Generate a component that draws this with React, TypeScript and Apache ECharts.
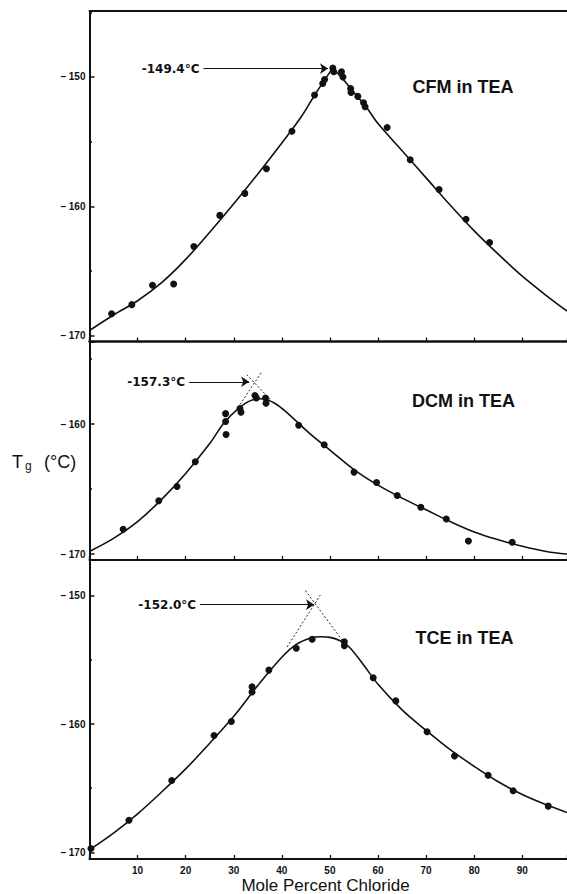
import React, { useEffect, useRef } from 'react';
import * as echarts from 'echarts';

// ---------- data ----------
const panelTitles = ['CFM in TEA', 'DCM in TEA', 'TCE in TEA'];
const peakLabels = ['-149.4°C', '-157.3°C', '-152.0°C'];
const xTickLabels = [10, 20, 30, 40, 50, 60, 70, 80, 90];
const yTickLabels = [-150, -160, -170];

// CFM in TEA
const cfmPoints = [
  [4.6, -168.3], [8.8, -167.6], [13.1, -166.1], [17.5, -166.0], [21.7, -163.1],
  [27.1, -160.7], [32.3, -159.0], [36.8, -157.1], [42.1, -154.2], [46.8, -151.4],
  [48.5, -150.5], [48.9, -150.2], [50.6, -149.3], [50.8, -149.6], [52.4, -149.6],
  [52.7, -150.0], [54.3, -150.9], [54.4, -151.2], [55.8, -151.5], [57.0, -152.0],
  [57.3, -152.3], [61.9, -153.9], [66.7, -156.4], [72.7, -158.7], [78.3, -161.0],
  [83.2, -162.8],
];
const cfmCurveLeft = [
  [0, -169.6], [5, -168.4], [10, -167.3], [15, -165.9], [20, -164.1], [25, -162.0],
  [30, -159.8], [35, -157.5], [40, -155.1], [44, -153.1], [47, -151.3], [50.6, -149.3],
];
const cfmCurveRight = [
  [50.6, -149.3], [53, -150.3], [55, -151.2], [57.5, -152.3], [60, -153.6], [65, -155.7],
  [70, -157.8], [75, -159.9], [80, -161.9], [85, -163.7], [90, -165.4], [95, -166.9],
  [99.3, -168.1],
];

// DCM in TEA
const dcmPoints = [
  [7.0, -168.1], [14.4, -165.9], [18.2, -164.8], [22.0, -162.9], [28.3, -159.2],
  [28.3, -159.8], [28.4, -160.8], [31.3, -158.8], [31.5, -159.1], [34.4, -157.8],
  [34.7, -158.0], [36.6, -158.0], [36.7, -158.4], [43.5, -160.1], [48.8, -161.6],
  [55.0, -163.7], [59.7, -164.5], [64.0, -165.5], [68.9, -166.4], [74.2, -167.3],
  [78.8, -169.0], [87.9, -169.1],
];
const dcmCurve = [
  [0, -169.8], [5, -168.8], [10, -167.5], [15, -165.8], [20, -163.8], [25, -161.5],
  [28, -159.9], [31, -158.8], [33.5, -158.2], [36, -158.05], [38.5, -158.4], [41, -159.1],
  [45.7, -160.7], [50, -162.0], [55, -163.5], [60, -164.7], [65, -165.7], [70, -166.6],
  [75, -167.5], [80, -168.3], [85, -168.9], [90, -169.4], [95, -169.8], [99.3, -170.0],
];
const dcmTangentA = [[31.3, -158.5], [35.8, -156.0]];
const dcmTangentB = [[32.7, -156.2], [37.8, -158.2]];

// TCE in TEA
const tcePoints = [
  [0.3, -169.7], [8.2, -167.5], [17.1, -164.4], [25.9, -160.9], [29.5, -159.8],
  [33.8, -157.1], [33.8, -157.5], [37.3, -155.8], [43.0, -154.1], [46.3, -153.4],
  [53.0, -153.6], [53.0, -153.9], [59.0, -156.4], [63.7, -158.2], [70.2, -160.6],
  [75.9, -162.5], [82.9, -164.0], [88.1, -165.2], [95.4, -166.4],
];
const tceCurve = [
  [0, -169.8], [5, -168.5], [10, -167.0], [15, -165.3], [20, -163.5], [25, -161.5],
  [30, -159.4], [35, -157.0], [40, -154.8], [43, -153.8], [46, -153.3], [48, -153.2],
  [50, -153.25], [52, -153.5], [54, -154.0], [57, -155.4], [60, -156.9], [65, -158.9],
  [70, -160.5], [75, -162.0], [80, -163.3], [85, -164.5], [90, -165.5], [95, -166.3],
  [99.3, -166.9],
];
const tceTangentA = [[41.1, -154.0], [48.0, -149.95]];
const tceTangentB = [[44.9, -149.6], [52.6, -153.5]];

// annotation arrows: [xFrom, xTo, y]
const peakArrows = [
  [23.7, 49.6, -149.35],
  [20.7, 33.2, -156.75],
  [23.0, 46.7, -150.7],
];

// axis extents of each panel
const yMin = [-170.45, -170.46, -170.52];
const yMax = [-144.9, -153.69, -147.22];
const ySplit = [3, 2, 3];
const xMin = 0;
const xMax = 99.3;

// ---------- styling ----------
const INK = '#111';
const FONT = '"Liberation Sans", Arial, Helvetica, sans-serif';
const gridRects = [
  { top: 11, height: 330.5 },
  { top: 342, height: 218 },
  { top: 560, height: 299 },
];

function buildOption() {
  const grid = gridRects.map((g) => ({
    left: 89.5,
    right: 0,
    top: g.top,
    height: g.height,
    containLabel: false,
    outerBoundsMode: 'none',
  }));

  const xAxis: any[] = [0, 1, 2].map((i) => ({
    gridIndex: i,
    type: 'value',
    min: xMin,
    max: xMax,
    interval: 10,
    axisLine: { show: true, onZero: false, lineStyle: { color: INK, width: i === 0 ? 2.5 : 2 } },
    axisTick: { show: true, inside: true, length: 4, lineStyle: { color: INK, width: 1.3 } },
    axisLabel: {
      show: i === 2,
      margin: 6,
      color: INK,
      fontSize: 10,
      fontWeight: 'bold',
      fontFamily: FONT,
      formatter: (v: number) => (xTickLabels.indexOf(Math.round(v * 1000) / 1000) >= 0 ? String(v) : ''),
    },
    splitLine: { show: false },
  }));
  // top border of first panel
  xAxis.push({
    gridIndex: 0,
    type: 'value',
    position: 'top',
    min: xMin,
    max: xMax,
    interval: 10,
    axisLine: { show: true, onZero: false, lineStyle: { color: INK, width: 2 } },
    axisTick: { show: false },
    axisLabel: { show: false },
    splitLine: { show: false },
  });

  const yAxis = [0, 1, 2].map((i) => ({
    gridIndex: i,
    type: 'value',
    min: yMin[i],
    max: yMax[i],
    splitNumber: ySplit[i],
    axisLine: { show: true, onZero: false, lineStyle: { color: INK, width: 2 } },
    axisTick: { show: true, inside: true, length: 5, lineStyle: { color: INK, width: 1.5 } },
    minorTick: { show: true, splitNumber: 2, length: 2.5, lineStyle: { color: INK, width: 1.5 } },
    axisLabel: {
      margin: 4,
      color: INK,
      fontSize: 10,
      fontWeight: 'bold',
      fontFamily: FONT,
      formatter: (v: number) => {
        const r = Math.round(v * 1000) / 1000;
        return yTickLabels.indexOf(r) >= 0 ? '– ' + Math.abs(r) : '';
      },
    },
    splitLine: { show: false },
    minorSplitLine: { show: false },
  }));

  const scatter = (i: number, data: number[][]) => ({
    type: 'scatter',
    xAxisIndex: i,
    yAxisIndex: i,
    data,
    symbol: 'circle',
    symbolSize: 7,
    itemStyle: { color: INK, opacity: 1 },
    z: 5,
    markLine: {
      silent: true,
      symbol: ['none', 'arrow'],
      symbolSize: 8,
      z: 6,
      lineStyle: { color: INK, width: 1.2, type: 'solid', opacity: 1 },
      itemStyle: { color: INK },
      label: {
        show: true,
        position: 'start',
        distance: 4,
        formatter: peakLabels[i],
        color: INK,
        fontSize: 12,
        fontWeight: 'bold',
        fontFamily: '"DejaVu Sans", sans-serif',
      },
      data: [
        [
          { coord: [peakArrows[i][0], peakArrows[i][2]] },
          { coord: [peakArrows[i][1], peakArrows[i][2]] },
        ],
      ],
    },
  });

  const curve = (i: number, data: number[][]) => ({
    type: 'line',
    xAxisIndex: i,
    yAxisIndex: i,
    data,
    smooth: 0.35,
    symbol: 'none',
    lineStyle: { color: INK, width: 1.6 },
    z: 3,
  });

  const tangent = (i: number, data: number[][]) => ({
    type: 'line',
    xAxisIndex: i,
    yAxisIndex: i,
    data,
    symbol: 'none',
    lineStyle: { color: INK, width: 0.9, type: [2, 2] },
    z: 2,
  });

  const series = [
    curve(0, cfmCurveLeft),
    curve(0, cfmCurveRight),
    scatter(0, cfmPoints),
    curve(1, dcmCurve),
    tangent(1, dcmTangentA),
    tangent(1, dcmTangentB),
    scatter(1, dcmPoints),
    curve(2, tceCurve),
    tangent(2, tceTangentA),
    tangent(2, tceTangentB),
    scatter(2, tcePoints),
  ];

  const titlePos = [
    [463, 87],
    [463.5, 401],
    [464.5, 638],
  ];
  const graphic: any[] = panelTitles.map((t, i) => ({
    type: 'text',
    x: titlePos[i][0],
    y: titlePos[i][1],
    silent: true,
    style: {
      text: t,
      fill: INK,
      fontSize: 18,
      fontWeight: 'bold',
      fontFamily: FONT,
      align: 'center',
      verticalAlign: 'middle',
    },
  }));
  graphic.push(
    {
      type: 'text',
      x: 325.5,
      y: 885.5,
      silent: true,
      style: {
        text: 'Mole Percent Chloride',
        fill: INK,
        fontSize: 17,
        fontFamily: FONT,
        align: 'center',
        verticalAlign: 'middle',
      },
    },
    {
      type: 'text',
      x: 12,
      y: 462,
      silent: true,
      style: { text: 'T', fill: INK, fontSize: 18, fontFamily: FONT, align: 'left', verticalAlign: 'middle' },
    },
    {
      type: 'text',
      x: 25,
      y: 466,
      silent: true,
      style: { text: 'g', fill: INK, fontSize: 12, fontFamily: FONT, align: 'left', verticalAlign: 'middle' },
    },
    {
      type: 'text',
      x: 44,
      y: 462,
      silent: true,
      style: { text: '(°C)', fill: INK, fontSize: 18, fontFamily: FONT, align: 'left', verticalAlign: 'middle' },
    }
  );

  return {
    animation: false,
    backgroundColor: '#ffffff',
    grid,
    xAxis,
    yAxis,
    series,
    graphic,
  };
}

export default function App() {
  const ref = useRef<HTMLDivElement>(null);
  useEffect(() => {
    if (!ref.current) return;
    const chart = echarts.init(ref.current, null, { renderer: 'svg' });
    chart.setOption(buildOption() as any);
    return () => {
      chart.dispose();
    };
  }, []);
  return (
    <div
      ref={ref}
      style={{ position: 'absolute', left: 0, top: 0, width: 567, height: 894 }}
    />
  );
}
